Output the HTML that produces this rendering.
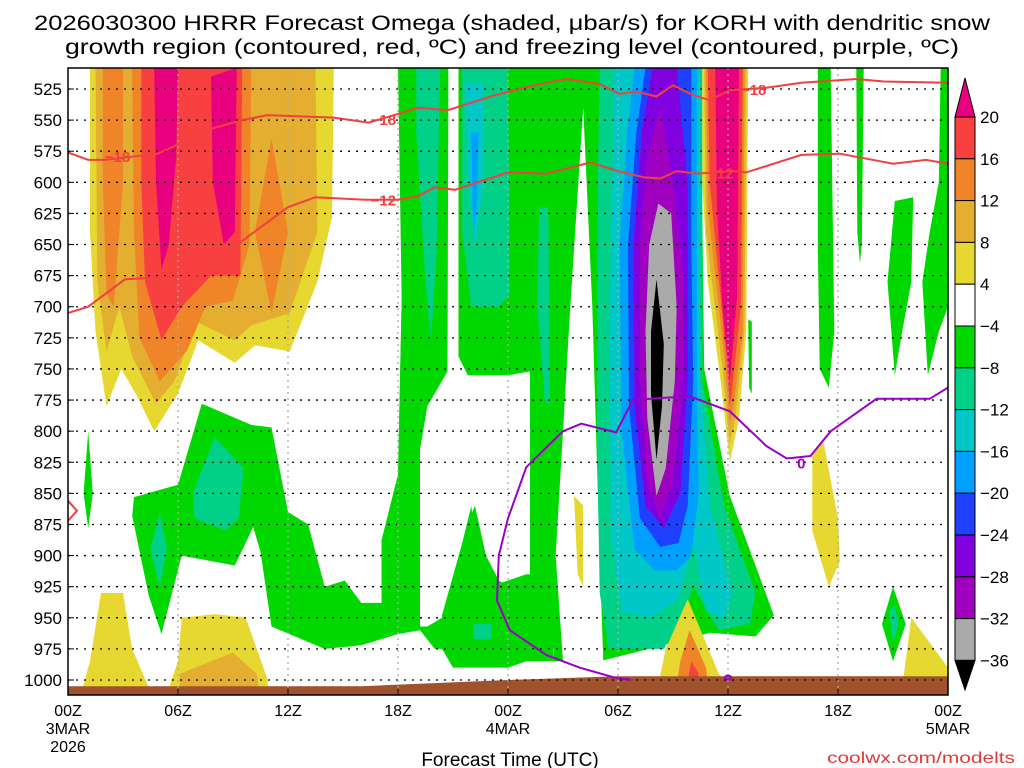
<!DOCTYPE html>
<html><head><meta charset="utf-8">
<style>
html,body{margin:0;padding:0;background:#fff;}
svg{display:block;font-family:"Liberation Sans","DejaVu Sans",sans-serif;}
</style></head>
<body>
<svg id="chart" width="1024" height="768" viewBox="0 0 1024 768" xmlns="http://www.w3.org/2000/svg">
<text x="512" y="30" font-size="21" text-anchor="middle" textLength="956" lengthAdjust="spacingAndGlyphs">2026030300 HRRR Forecast Omega (shaded, μbar/s) for KORH with dendritic snow</text>
<text x="512" y="54" font-size="21" text-anchor="middle" textLength="894" lengthAdjust="spacingAndGlyphs">growth region (contoured, red, ºC) and freezing level (contoured, purple, ºC)</text>
<g id="plot"></g>
<g id="axes"></g>
<g id="cbar"></g>
<text x="510" y="766" font-size="19" text-anchor="middle">Forecast Time (UTC)</text>
<text x="1015" y="763" font-size="16" text-anchor="end" fill="#e03838" textLength="188" lengthAdjust="spacingAndGlyphs">coolwx.com/modelts</text>
</svg>
<script>
// ---- data ----
const pressureTicks = [525,550,575,600,625,650,675,700,725,750,775,800,825,850,875,900,925,950,975,1000];
const timeTickHours = [0,6,12,18,24,30,36,42,48];
const timeTickLabels = ["00Z","06Z","12Z","18Z","00Z","06Z","12Z","18Z","00Z"];
const timeTickDates = ["3MAR","","","","4MAR","","","","5MAR"];
const cbarLevels = [20,16,12,8,4,-4,-8,-12,-16,-20,-24,-28,-32,-36];
const cbarColors = ["#f84040","#f08428","#e4ae30","#e6d830","#ffffff","#00d800","#00d088","#00c8c8","#00a0ff","#2040ff","#8000e0","#a000c0","#aaaaaa"];
const groundHours = [0,16,24,30,48];
const groundP = [1005,1005,1000,997,997];
// shaded regions: level class (one per polygon, same order)
const regionLevels = [
 4,8,12,12,12,16,20,20,
 4,4,8,
 -4,-4,0,0,-4,-4,
 -8,-8,-8,-12,-16,-8,-8,
 -8,-12,-16,-20,-24,-28,-32,-36,
 4,8,12,16,20,
 4,12,16,4,
 -4,-4,-4,-4,-4,-4,
 -8,-8,4,4
];
const regionPolys = [
 [[1.2,508],[14.5,508],[14.4,628],[13.6,680],[12.1,736],[10.2,731],[9.1,745],[7.1,727],[6,770],[4.7,800],[3.7,770],[2.9,750],[2.1,780],[1.5,720],[1.2,640]],
 [[1.5,508],[13.5,508],[13.6,640],[12.1,705],[10,715],[9.1,727],[7,712],[5.8,760],[4.8,778],[3.5,740],[2.8,700],[2.1,736],[1.6,680]],
 [[1.9,508],[3,508],[3,600],[2.5,700],[2.1,690],[1.9,600]],
 [[3.5,508],[10,508],[9.9,650],[9,695],[7.5,700],[6.5,735],[5,760],[3.9,725],[3.6,640]],
 [[11.1,565],[12,640],[11.1,705],[10.2,640]],
 [[4,508],[9.5,508],[9.4,675],[7.8,675],[6.2,700],[5.1,727],[4.2,680],[4,600]],
 [[4.7,508],[6,508],[5.9,580],[5.5,650],[5.1,670],[4.8,600]],
 [[7.8,515],[9.2,508],[9.1,640],[8.5,650],[7.9,600]],
 [[1.8,930],[3,930],[3.5,975],[4.4,1006],[0.8,1006],[1.2,985]],
 [[6.2,950],[8,947],[9.7,950],[10.9,1000],[10.9,1006],[5.5,1006],[6,985]],
 [[6.1,995],[9,978],[10.3,995],[10.4,1006],[6.1,1006]],
 [[18,508],[34.5,508],[34.7,750],[36.1,852],[38.5,948],[37.5,965],[35,962],[33,970],[29,985],[26.5,985],[26.5,975],[20,975],[19.2,960],[18,963],[17.1,960],[17.1,888],[18,835],[18.2,694]],
 [[3.6,853],[6,843],[7.3,778],[10,795],[11.1,797],[12,865],[13.1,875],[14,925],[15.1,920],[16,938],[17.1,938],[17.1,888],[18,835],[18.2,694],[19.5,700],[19.6,780],[19.2,815],[19.2,957],[18,963],[16,972],[14,975],[11.1,957],[10.5,897],[10.1,877],[9.1,908],[6.2,900],[5.1,963],[4.4,932],[3.5,868]],
 [[20.75,508],[21.3,508],[21.3,740],[21.8,755],[24,755],[25.2,752],[25.2,915],[24,925],[23.5,920],[22.8,900],[22.2,860],[21.9,870],[21.5,920],[20.4,950],[19.6,957],[19.2,957],[19.2,815],[19.6,780],[20.7,752]],
 [[28.1,540],[28.6,700],[29,900],[29.2,985],[27,985],[26.6,900],[27.4,700]],
 [[20.4,948],[21.5,890],[22,860],[22.3,900],[23,925],[24,920],[25,915],[26.3,915],[26.5,985],[25,985],[24,990],[21,990],[20.4,975]],
 [[1.1,800],[1.35,850],[1.1,878],[0.85,850]],
 [[6.8,850],[8,805],[9.6,830],[9.3,870],[8.6,880],[6.9,870]],
 [[19,508],[20.3,508],[20.1,660],[19.8,727],[19.5,680],[19,560]],
 [[21.5,508],[24,508],[24.1,690],[23.5,700],[22,700],[21.5,640]],
 [[21.7,520],[22.7,520],[22.6,610],[22.2,650],[21.8,600]],
 [[22,560],[22.4,560],[22.3,620],[22.1,640]],
 [[4.5,895],[5,865],[5.4,895],[5,925]],
 [[25.7,620],[26.2,620],[26.3,780],[26,775],[25.6,700]],
 // main core
 [[29,508],[34.6,508],[34.6,760],[35.8,860],[37.5,930],[37.2,955],[35.5,960],[34.1,925],[33.5,950],[32.5,975],[29.5,975],[29,930],[28.85,800],[28.9,600]],
 [[29.8,508],[34.5,508],[34.5,760],[35,860],[36.2,930],[35.8,950],[34.8,945],[34.1,890],[33.3,935],[31.8,950],[30.2,945],[29.6,880],[29.55,700],[29.7,600]],
 [[30.9,508],[34.3,508],[34.3,760],[34.4,850],[34,900],[33.2,912],[32,912],[30.9,895],[30.2,800],[30.1,650],[30.5,560]],
 [[31.5,508],[34,508],[34,650],[34.1,760],[33.8,860],[33.3,890],[32.3,893],[31.2,870],[30.6,780],[30.55,650],[31,560]],
 [[31.9,508],[33.2,508],[33.8,600],[33.8,760],[33.4,850],[32.5,878],[31.5,860],[30.9,780],[30.85,650],[31.3,560]],
 [[32.3,540],[33,600],[33.6,680],[33.5,770],[33,840],[32.3,870],[31.6,840],[31.2,760],[31.2,650],[31.6,580]],
 [[32.2,617],[32.9,625],[33.2,700],[33.1,760],[32.6,830],[32.1,852],[31.6,790],[31.5,720],[31.7,650]],
 [[32.1,678],[32.5,730],[32.4,780],[32.1,823],[31.8,770],[31.8,720]],
 // 12Z stripe
 [[34.6,508],[37.1,508],[37,720],[36.6,790],[36.1,825],[35.6,760],[34.9,680],[34.6,600]],
 [[34.7,508],[37,508],[36.9,720],[36.4,790],[36.1,810],[35.7,750],[34.8,640]],
 [[34.8,508],[36.9,508],[36.8,720],[36.3,780],[36.1,795],[35.8,740],[34.9,620]],
 [[34.9,508],[36.8,508],[36.7,700],[36.2,770],[36.1,780],[35.9,740],[35,600]],
 [[35.3,508],[36.6,508],[36.5,690],[36.1,760],[35.7,700],[35.4,620]],
 [[33.8,935],[35.5,995],[36,1004],[32.2,1004],[32.6,975]],
 [[33.9,960],[34.8,990],[34.9,1004],[33.2,1004],[33.4,985]],
 [[34,985],[34.4,995],[34.3,1003],[33.8,1001]],
 [[27.6,852],[28.1,860],[28.1,925],[27.8,915]],
 [[40.9,508],[41.6,508],[41.8,720],[41.5,765],[41,750],[40.9,650]],
 [[43.0,508],[43.4,508],[43.3,650],[43.2,665],[43.05,640]],
 [[45.1,615],[46.1,612],[46,680],[45.5,720],[45.1,755],[44.7,680]],
 [[47.6,508],[48,508],[48,700],[47.5,720],[46.9,755],[46.6,680],[47,640],[47.5,600]],
 [[37.1,710],[37.3,712],[37.3,770],[37.15,765]],
 [[44.4,955],[45,925],[45.7,955],[45,985]],
 [[22.1,955],[23.1,955],[23.1,967],[22.1,967]],
 [[44.8,945],[45.1,940],[45.3,955],[45,970]],
 [[40.6,820],[41.2,808],[42,870],[42.1,905],[41.5,925],[40.6,880]],
 [[46,950],[48,990],[48,1006],[45.5,1006]]
];
// contour lines
const lineM18H = [0,1.1,2,4.9,5.8,7.8,9.5,10.9,14.5,16.4,17.8,19.1,20.7,23.3,25.4,27.2,29,30.1,31,32.1,33,34.1,35,36.1,38.1,40,43,44.5,48];
const lineM18P = [576,582,582,577,571,557,550,546,548,552,546,540,542,530,522,517,521,529,527,531,522,530,534,526,524,520,517,519,520];
const lineM12H = [0,1.1,3.1,5.1,6.9,7.8,9.5,12,13.5,16.2,18,19.1,20,21.1,24,26.1,28.5,30,31.4,32.3,33.2,34.3,36.3,37,40,42.1,45,46.8,48];
const lineM12P = [705,700,678,676,676,665,647,620,612,614,614,611,604,606,592,593,584,591,596,597,591,593,591,592,578,577,585,582,585];
const lineZeroH = [30.7,29.8,27.9,26.1,24.1,23.4,23.5,24,25,27,28,29.9,30.8,32.7,33.9,36.1,38.1,39.2,40.5,41.6,44.1,47,48];
const lineZeroP = [1000,998,990,980,960,936,900,870,829,800,794,801,775,773,772,784,812,822,820,800,774,774,765];

// ---- axes ----
const X0=68, X1=948, Y0=68, Y1=695;
function xs(h){return X0 + h*(X1-X0)/48;}
function ys(p){return 89 + (p-525)*(591/475);}
const NS="http://www.w3.org/2000/svg";
function mk(tag, attrs, parent){const e=document.createElementNS(NS,tag);for(const k in attrs)e.setAttribute(k,attrs[k]);parent.appendChild(e);return e;}
function colorFor(l){
 const m={20:"#e8007e",16:"#f84040",12:"#f08428",8:"#e4ae30",4:"#e6d830",0:"#ffffff",
  "-4":"#00d800","-8":"#00d088","-12":"#00c8c8","-16":"#00a0ff","-20":"#2040ff","-24":"#8000e0","-28":"#a000c0","-32":"#aaaaaa","-36":"#000000"};
 return m[l];
}
const plot=document.getElementById('plot');
const axes=document.getElementById('axes');
const cb=document.getElementById('cbar');
const defs=mk('defs',{},plot);
const cp=mk('clipPath',{id:'clip'},defs);
mk('rect',{x:X0,y:Y0,width:X1-X0,height:Y1-Y0},cp);
const g=mk('g',{'clip-path':'url(#clip)'},plot);
mk('rect',{x:X0,y:Y0,width:X1-X0,height:Y1-Y0,fill:'#fff'},g);
regionPolys.forEach((poly,i)=>{
 const pts=poly.map(q=>xs(q[0]).toFixed(1)+','+ys(q[1]).toFixed(1)).join(' ');
 const e=mk('polygon',{points:pts,fill:colorFor(regionLevels[i])},g);
 
 
});
// ground
{
 let d='M'+xs(groundHours[0])+','+ys(groundP[0]);
 for(let i=1;i<groundHours.length;i++) d+=' L'+xs(groundHours[i])+','+ys(groundP[i]);
 d+=' L'+X1+','+Y1+' L'+X0+','+Y1+' Z';
 const e=mk('path',{d:d,fill:'#a0522d'},g);
 
 
}
// grid
pressureTicks.forEach(p=>{
 const e=mk('line',{x1:X0,x2:X1,y1:ys(p),y2:ys(p),stroke:'#000','stroke-width':1.3,'stroke-dasharray':'2,6'},g);
 
 
});
timeTickHours.forEach((h,i)=>{
 if(i==0||i==timeTickHours.length-1) return;
 const e=mk('line',{x1:xs(h),x2:xs(h),y1:Y0,y2:Y1,stroke:'#aaa','stroke-width':1.3,'stroke-dasharray':'2,4'},g);
 
 
});
// contour lines
function drawLine(H,P,color,name){
 const pts=H.map((h,i)=>xs(h).toFixed(1)+','+ys(P[i]).toFixed(1)).join(' ');
 const e=mk('polyline',{points:pts,fill:'none',stroke:color,'stroke-width':2},g);
 
 
}
drawLine(lineM18H,lineM18P,'#f04040','dgz-minus18-contour');
drawLine(lineM12H,lineM12P,'#f04040','dgz-minus12-contour');
drawLine(lineZeroH,lineZeroP,'#9a00c8','freezing-level-contour');
{
 const e=mk('polyline',{points:[[X0,ys(856)],[X0+9,ys(864)],[X0,ys(872)]].map(a=>a.join(',')).join(' '),fill:'none',stroke:'#f04040','stroke-width':2},g);
 
 
 const o=mk('ellipse',{cx:xs(36),cy:ys(998),rx:3,ry:2,fill:'none',stroke:'#9a00c8','stroke-width':2},g);
 
 
}
function lbl(h,p,t,c,name){
 const e=mk('text',{x:xs(h),y:ys(p)+6,'font-size':15,'font-weight':'bold',fill:c,'text-anchor':'middle'},g);
 e.textContent=t;
 
 
}
lbl(2.7,579,'−18','#f04040','contour-label-m18a');
lbl(17.2,549,'−18','#f04040','contour-label-m18b');
lbl(37.4,525,'−18','#f04040','contour-label-m18c');
lbl(17.2,614,'−12','#f04040','contour-label-m12a');
lbl(35.6,592,'−12','#f04040','contour-label-m12b');
lbl(40,825,'0','#9a00c8','contour-label-0');
// frame
mk('rect',{x:X0,y:Y0,width:X1-X0,height:Y1-Y0,fill:'none',stroke:'#000','stroke-width':1.5},axes);
// y labels
pressureTicks.forEach(p=>{
 const t=mk('text',{x:62,y:ys(p)+6,'font-size':17,'text-anchor':'end'},axes);
 t.textContent=p;
 
 
 mk('line',{x1:X0,x2:X0+6,y1:ys(p),y2:ys(p),stroke:'#000'},axes);
});
timeTickHours.forEach((h,i)=>{
 mk('line',{x1:xs(h),x2:xs(h),y1:Y1,y2:Y1-6,stroke:'#000'},axes);
 const t=mk('text',{x:xs(h),y:716,'font-size':16,'text-anchor':'middle'},axes);
 t.textContent=timeTickLabels[i];
 
 
 if(timeTickDates[i]){
  const d=mk('text',{x:xs(h),y:734,'font-size':16,'text-anchor':'middle'},axes);
  d.textContent=timeTickDates[i];
  
  
 }
});
{
 const t=mk('text',{x:xs(0),y:752,'font-size':16,'text-anchor':'middle'},axes);
 t.textContent='2026';
 
 
}
// colorbar
const CBX=955, CBW=20, CBtop=117, CBstep=41.8;
{
 const tri=mk('polygon',{points:`${CBX},${CBtop} ${CBX+CBW},${CBtop} ${CBX+CBW/2},78`,fill:'#e8007e',stroke:'#000'},cb);
 
 
 cbarColors.forEach((c,i)=>{
  const r=mk('rect',{x:CBX,y:CBtop+i*CBstep,width:CBW,height:CBstep,fill:c,stroke:'#000','stroke-width':1},cb);
  
  
 });
 const yb=CBtop+cbarColors.length*CBstep;
 const tri2=mk('polygon',{points:`${CBX},${yb} ${CBX+CBW},${yb} ${CBX+CBW/2},690`,fill:'#000',stroke:'#000'},cb);
 
 
 cbarLevels.forEach((l,i)=>{
  const t=mk('text',{x:980,y:CBtop+i*CBstep+6,'font-size':17},cb);
  t.textContent=(l<0?'−':'')+Math.abs(l);
  
  
 });
}
</script>
</body></html>
